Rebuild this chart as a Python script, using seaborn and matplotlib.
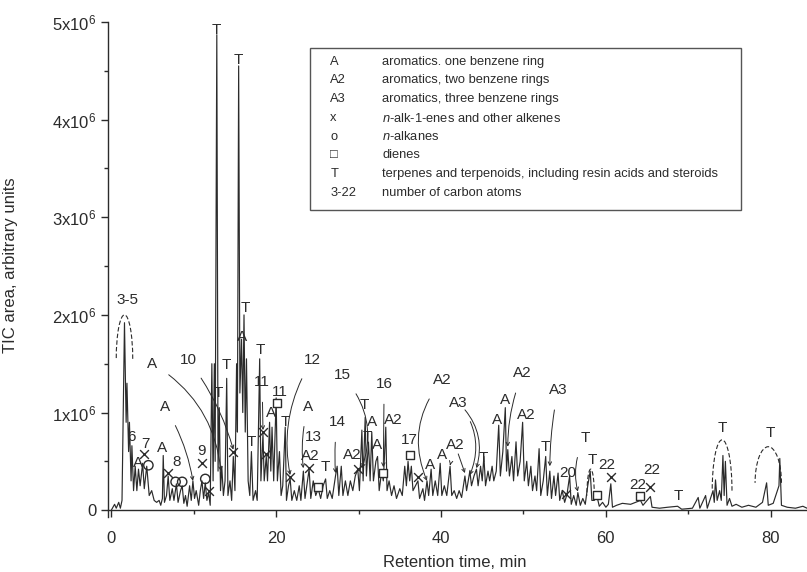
import numpy as np
import pandas as pd
import matplotlib
matplotlib.use("Agg")
import matplotlib.pyplot as plt
import seaborn as sns
from matplotlib.patches import Arc, Rectangle
from matplotlib.ticker import FixedLocator, FixedFormatter, MultipleLocator

# chromatogram trace: retention time (min) / TIC (x1e6), peaks and valleys
rt = [0.0, 0.4, 0.6, 0.9, 1.1, 1.3, 1.6, 1.8, 1.9, 2.1, 2.2, 2.4, 2.5, 2.7, 2.9, 3.1, 3.3, 3.5,
      3.8, 4.0, 4.3, 4.6, 4.9, 5.2, 5.5, 5.8, 6.0, 6.2, 6.3, 6.45, 6.7, 6.9, 7.1, 7.4, 7.6, 7.9,
      8.1, 8.4, 8.6, 8.8, 9.0, 9.2, 9.5, 9.7, 9.9, 10.1, 10.3, 10.6, 10.8, 11.0, 11.2, 11.4,
      11.6, 11.8, 12.0, 12.2, 12.35, 12.5, 12.6, 12.8, 12.95, 13.1, 13.25, 13.4, 13.6, 13.8,
      14.0, 14.15, 14.4, 14.6, 14.8, 15.0, 15.2, 15.3, 15.45, 15.6, 15.8, 15.95, 16.1, 16.25,
      16.4, 16.6, 16.8, 17.0, 17.2, 17.5, 17.7, 18.0, 18.15, 18.4, 18.55, 18.8, 18.95, 19.2,
      19.35, 19.5, 19.7, 20.0, 20.15, 20.4, 20.6, 20.8, 21.1, 21.25, 21.5, 21.7, 21.9, 22.2,
      22.5, 22.8, 23.0, 23.3, 23.5, 23.8, 24.0, 24.2, 24.5, 24.8, 25.1, 25.4, 25.7, 26.0, 26.2,
      26.5, 26.8, 27.2, 27.4, 27.6, 27.9, 28.1, 28.4, 28.7, 29.0, 29.3, 29.6, 29.9, 30.1, 30.4,
      30.55, 30.8, 30.95, 31.2, 31.4, 31.6, 31.8, 32.1, 32.3, 32.5, 32.8, 33.0, 33.3, 33.45,
      33.7, 34.0, 34.3, 34.6, 35.0, 35.3, 35.6, 35.8, 36.0, 36.2, 36.4, 36.6, 36.9, 37.2, 37.4,
      37.8, 38.0, 38.3, 38.5, 38.8, 39.0, 39.3, 39.6, 39.9, 40.1, 40.4, 40.7, 41.1, 41.3, 41.6,
      41.9, 42.2, 42.5, 42.9, 43.1, 43.5, 43.7, 44.0, 44.3, 44.5, 44.8, 45.0, 45.2, 45.4, 45.7,
      45.9, 46.2, 46.4, 46.7, 47.0, 47.2, 47.5, 47.8, 47.95, 48.1, 48.3, 48.6, 48.8, 49.1, 49.3,
      49.6, 49.9, 50.1, 50.4, 50.6, 50.9, 51.1, 51.4, 51.6, 51.9, 52.1, 52.4, 52.7, 52.9, 53.2,
      53.4, 53.7, 53.9, 54.2, 54.4, 54.7, 55.0, 55.3, 55.6, 55.8, 56.1, 56.4, 56.6, 56.9, 57.2,
      57.5, 57.8, 58.1, 58.3, 58.6, 58.9, 59.2, 59.6, 60.0, 60.3, 60.6, 60.8, 61.3, 62.0, 63.0,
      64.2, 64.5, 65.4, 65.6, 66.5, 67.5, 68.7, 69.2, 70.5, 71.2, 71.4, 72.1, 72.3, 73.0, 73.15,
      73.3, 73.5, 73.8, 74.0, 74.2, 74.35, 74.5, 74.7, 75.0, 75.3, 75.8, 76.5, 77.3, 78.2, 79.0,
      79.5, 79.7, 80.3, 81.0, 81.1, 81.3, 82.0, 83.0, 83.9, 84.4]
tic = [0.0, 0.06, 0.02, 0.08, 0.02, 0.1, 1.92, 0.9, 1.3, 0.6, 0.9, 0.3, 0.66, 0.2, 0.45, 0.2, 0.42, 0.25,
       0.48, 0.22, 0.45, 0.15, 0.2, 0.1, 0.08, 0.1, 0.05, 0.12, 0.56, 0.08, 0.15, 0.35, 0.1, 0.22, 0.1, 0.27,
       0.08, 0.2, 0.25, 0.07, 0.15, 0.04, 0.25, 0.1, 0.3, 0.12, 0.2, 0.05, 0.2, 0.3, 0.12, 0.28,
       0.1, 0.18, 0.05, 1.5, 0.3, 1.5, 0.5, 4.87, 0.4, 1.05, 0.2, 0.45, 0.15, 0.3,
       1.35, 0.15, 0.3, 0.1, 0.55, 0.2, 1.5, 0.8, 4.55, 1.2, 1.75, 1.0, 2.0, 0.8,
       1.55, 0.3, 0.15, 0.6, 0.1, 0.2, 0.1, 1.55, 0.3, 0.78, 0.3, 0.55, 0.3, 0.9,
       0.4, 0.85, 0.3, 1.15, 0.3, 0.6, 0.15, 0.25, 0.85, 0.1, 0.25, 0.32, 0.1, 0.2,
       0.1, 0.25, 0.1, 0.4, 0.12, 0.3, 0.42, 0.12, 0.3, 0.15, 0.22, 0.12, 0.25, 0.32, 0.12,
       0.2, 0.12, 0.35, 0.45, 0.15, 0.45, 0.15, 0.3, 0.15, 0.3, 0.2, 0.35, 0.42, 0.2, 0.82,
       0.3, 0.95, 0.35, 0.7, 0.3, 0.8, 0.3, 0.5, 0.55, 0.2, 0.4, 0.3, 0.85, 0.2,
       0.3, 0.15, 0.25, 0.12, 0.22, 0.15, 0.45, 0.25, 0.5, 0.3, 0.45, 0.2, 0.25, 0.3, 0.12,
       0.22, 0.1, 0.3, 0.15, 0.42, 0.15, 0.3, 0.15, 0.48, 0.15, 0.25, 0.15, 0.45, 0.15, 0.2,
       0.12, 0.2, 0.13, 0.35, 0.2, 0.4, 0.25, 0.35, 0.42, 0.25, 0.45, 0.3, 0.55, 0.25, 0.4,
       0.3, 0.45, 0.3, 0.4, 0.87, 0.35, 0.6, 1.05, 0.4, 0.62, 0.35, 0.55, 0.3, 0.7, 0.35,
       0.5, 0.9, 0.3, 0.5, 0.25, 0.45, 0.2, 0.35, 0.2, 0.63, 0.15, 0.3, 0.55, 0.15, 0.4,
       0.12, 0.35, 0.15, 0.38, 0.1, 0.2, 0.08, 0.17, 0.35, 0.06, 0.15, 0.05, 0.18, 0.05, 0.12,
       0.06, 0.25, 0.4, 0.1, 0.1, 0.15, 0.04, 0.08, 0.03, 0.06, 0.27, 0.03, 0.05, 0.07, 0.06,
       0.1, 0.05, 0.14, 0.03, 0.02, 0.03, 0.04, 0.01, 0.02, 0.13, 0.02, 0.15, 0.02, 0.2, 0.08,
       0.31, 0.1, 0.2, 0.1, 0.56, 0.15, 0.5, 0.05, 0.12, 0.04, 0.06, 0.03, 0.05, 0.03, 0.08,
       0.28, 0.05, 0.07, 0.25, 0.53, 0.05, 0.03, 0.02, 0.04, 0.02]

# peak labels without arrows: text, rt, height (x1e6)
labels = [("3-5", 1.9, 2.15), ("6", 2.5, 0.75), ("7", 4.1, 0.68), ("A", 3.2, 0.48), ("A", 6.2, 0.64),
          ("8", 7.9, 0.49), ("9", 11.0, 0.61), ("T", 13.0, 1.2), ("T", 13.9, 1.49), ("T", 12.7, 4.92),
          ("T", 15.4, 4.61), ("T", 16.2, 2.07), ("A", 15.9, 1.77), ("T", 17.0, 0.7), ("T", 18.1, 1.64),
          ("11", 20.5, 1.21), ("A", 19.4, 1.0), ("T", 21.1, 0.9), ("13", 24.5, 0.75), ("A2", 24.1, 0.55),
          ("T", 26.0, 0.44), ("A2", 29.2, 0.56), ("T", 30.7, 1.08), ("T", 31.1, 0.75), ("A", 31.6, 0.9),
          ("A", 32.2, 0.67), ("A2", 34.2, 0.92), ("17", 36.2, 0.72), ("A", 38.7, 0.46), ("A", 40.1, 0.56),
          ("T", 45.1, 0.53), ("A", 46.8, 0.92), ("A", 47.8, 1.13), ("A2", 50.3, 0.97), ("T", 52.7, 0.65),
          ("20", 55.4, 0.38), ("T", 58.3, 0.51), ("22", 60.1, 0.46), ("22", 63.9, 0.26), ("22", 65.6, 0.41),
          ("T", 68.8, 0.15), ("T", 74.1, 0.84), ("T", 80.0, 0.79)]

# labels with curved arrows: text, text rt, text height, target rt, target height, curvature
arrows = [("A", 5.0, 1.5, 13.3, 0.4, -0.25), ("A", 6.5, 1.06, 9.9, 0.3, -0.1),
          ("10", 9.3, 1.54, 14.8, 0.62, -0.1), ("11", 18.3, 1.31, 18.4, 0.82, 0.0),
          ("12", 24.4, 1.54, 21.7, 0.36, 0.2), ("A", 23.9, 1.06, 23.3, 0.43, 0.1),
          ("14", 27.4, 0.9, 27.2, 0.38, 0.05), ("15", 28.0, 1.38, 30.4, 0.43, -0.3),
          ("16", 33.1, 1.29, 33.0, 0.44, 0.0), ("A2", 40.1, 1.33, 38.3, 0.3, 0.3),
          ("A2", 41.7, 0.67, 41.1, 0.46, 0.0), ("A2", 41.7, 0.67, 42.9, 0.38, 0.0),
          ("A3", 42.1, 1.1, 43.5, 0.36, -0.3), ("A3", 42.1, 1.1, 44.3, 0.43, -0.3),
          ("A2", 49.9, 1.4, 48.1, 0.65, 0.1), ("A3", 54.2, 1.23, 53.2, 0.45, 0.05),
          ("T", 57.5, 0.74, 56.6, 0.19, 0.2)]

# compound class symbols
x_rt = [4.0, 6.9, 11.0, 11.8, 14.8, 18.4, 18.8, 21.7, 24.0, 29.9, 37.2, 55.2, 60.6, 65.3]
x_h = [0.58, 0.38, 0.48, 0.2, 0.6, 0.8, 0.58, 0.34, 0.43, 0.42, 0.34, 0.17, 0.34, 0.24]
o_rt = [4.5, 7.8, 8.6, 11.4]
o_h = [0.46, 0.29, 0.29, 0.32]
sq_rt = [20.1, 25.1, 33.0, 36.2, 58.9, 64.2]
sq_h = [1.1, 0.24, 0.38, 0.57, 0.16, 0.15]

# dashed humps: centre rt, centre height, width (min), height, theta1, theta2
humps = [(1.6, 1.55, 2.0, 0.9, -5, 140), (58.15, 0.15, 0.9, 0.54, 0, 180),
         (74.1, 0.2, 2.4, 1.04, 0, 180), (79.7, 0.28, 3.2, 0.74, 25, 185)]

legend_keys = ["A", "A2", "A3", "x", "o", "\u25a1", "T", "3-22"]
legend_text = ["aromatics. one benzene ring", "aromatics, two benzene rings",
               "aromatics, three benzene rings", r"$\it{n}$-alk-1-enes and other alkenes",
               r"$\it{n}$-alkanes", "dienes",
               "terpenes and terpenoids, including resin acids and steroids",
               "number of carbon atoms"]

yticks = [0, 1, 2, 3, 4, 5]
ytick_labels = ["0"] + ["%dx10$^6$" % v for v in yticks[1:]]

sns.set_theme(style="ticks")
plt.rcParams["font.family"] = ["Liberation Sans", "DejaVu Sans"]
plt.rcParams["mathtext.fontset"] = "custom"
plt.rcParams["mathtext.rm"] = "Liberation Sans"
plt.rcParams["mathtext.it"] = "Liberation Sans:italic"

ink = "#2b2b2b"
M = 1e6

fig = plt.figure(figsize=(8.07, 5.72), dpi=100)
ax = fig.add_axes([108 / 807, 55 / 572, 699 / 807, 495 / 572])

df = pd.DataFrame({"rt": rt, "tic": np.array(tic) * M})
sns.lineplot(data=df, x="rt", y="tic", ax=ax, color=ink, lw=0.85, sort=False)

for text, x, y in labels:
    ax.text(x, y * M, text, ha="center", va="center", fontsize=11, color=ink)

seen = set()
for text, tx, ty, x, y, rad in arrows:
    key = (text, tx, ty)
    shown = "" if key in seen else text
    seen.add(key)
    ax.annotate(shown, xy=(x, y * M), xytext=(tx, ty * M), ha="center", va="center",
                fontsize=11, color=ink,
                arrowprops=dict(arrowstyle="->", color=ink, lw=0.7, shrinkA=7, shrinkB=0,
                                connectionstyle="arc3,rad=%s" % rad, mutation_scale=6))

ax.scatter(x_rt, np.array(x_h) * M, marker="x", s=40, color=ink, linewidths=1.0, zorder=3)
ax.scatter(o_rt, np.array(o_h) * M, marker="o", s=45, facecolors="none", edgecolors=ink,
           linewidths=1.0, zorder=3)
ax.scatter(sq_rt, np.array(sq_h) * M, marker="s", s=30, facecolors="white", edgecolors=ink,
           linewidths=1.0, zorder=3)

for cx, cy, w, h, t1, t2 in humps:
    ax.add_patch(Arc((cx, cy * M), w, h * M, theta1=t1, theta2=t2, color=ink, lw=0.8,
                     linestyle=(0, (4, 2))))

# legend box
ax.add_patch(Rectangle((0.289, 0.62), 0.617, 0.327, transform=ax.transAxes, facecolor="white",
                       edgecolor="#555555", lw=1.0, zorder=4))
rows = [0.919, 0.883, 0.844, 0.806, 0.768, 0.731, 0.693, 0.655]
for key, desc, ry in zip(legend_keys, legend_text, rows):
    ax.text(0.318, ry, key, transform=ax.transAxes, fontsize=9.3, va="center", color=ink, zorder=5)
    ax.text(0.392, ry, desc, transform=ax.transAxes, fontsize=9.3, va="center", color=ink, zorder=5)

ax.set_xlim(-0.4, 84.4)
ax.set_ylim(-0.07 * M, 5 * M)
ax.yaxis.set_major_locator(FixedLocator([v * M for v in yticks]))
ax.yaxis.set_major_formatter(FixedFormatter(ytick_labels))
ax.yaxis.set_minor_locator(MultipleLocator(0.5 * M))
ax.xaxis.set_major_locator(MultipleLocator(20))
ax.xaxis.set_minor_locator(MultipleLocator(10))
ax.tick_params(axis="both", which="major", labelsize=12, length=5, width=1, color=ink, labelcolor=ink)
ax.tick_params(axis="x", which="major", pad=10)
ax.tick_params(axis="both", which="minor", length=3, width=1, color=ink)

sns.despine(ax=ax)
ax.spines["bottom"].set_position(("data", 0))
for s in ("left", "bottom"):
    ax.spines[s].set_color(ink)
    ax.spines[s].set_linewidth(1.0)

ax.set_xlabel("Retention time, min", fontsize=12, color=ink)
ax.set_ylabel("TIC area, arbitrary units", fontsize=12, color=ink)
ax.xaxis.set_label_coords(0.496, -0.077)
ax.yaxis.set_label_coords(-0.129, 0.509)

fig.savefig("out.png", dpi=100, facecolor="white")
